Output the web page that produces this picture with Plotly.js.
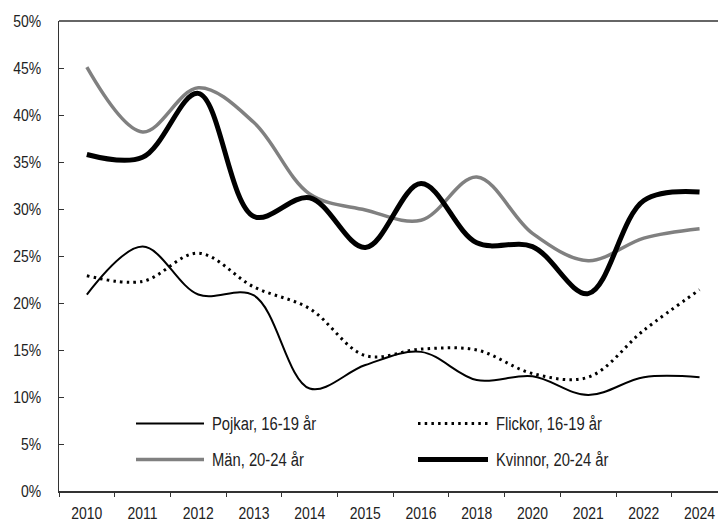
<!DOCTYPE html>
<html>
<head>
<meta charset="utf-8">
<script src="https://cdn.plot.ly/plotly-3.0.1.min.js"></script>
<style>html,body{margin:0;padding:0;background:#fff;}#chart{width:718px;height:522px;}</style>
</head>
<body>
<div id="chart"></div>
<script>
const years = ["2010","2011","2012","2013","2014","2015","2016","2018","2020","2021","2022","2024"];
const yTicks = [0,5,10,15,20,25,30,35,40,45,50];
const pojkar  = [20.9, 26.0, 20.9, 20.8, 10.9, 13.4, 14.8, 11.8, 12.2, 10.2, 12.1, 12.1];
const flickor = [22.9, 22.3, 25.3, 21.7, 19.4, 14.4, 15.1, 15.0, 12.5, 12.1, 17.1, 21.4];
const man     = [45.1, 38.2, 42.9, 39.2, 31.6, 29.9, 28.8, 33.4, 27.4, 24.5, 26.9, 27.9];
const kvinnor = [35.8, 35.5, 42.3, 29.2, 31.2, 25.9, 32.7, 26.4, 26.0, 21.0, 30.9, 31.8];
const names = ["Pojkar, 16-19 år", "Flickor, 16-19 år", "Män, 20-24 år", "Kvinnor, 20-24 år"];

const FONT = "Liberation Sans, Arial, sans-serif";
const styles = [
  {color:"#000000", width:2},
  {color:"#000000", width:3, dash:"2.5px,4.2px"},
  {color:"#808080", width:3.5},
  {color:"#000000", width:5}
];
const series = [pojkar, flickor, man, kvinnor];

const traces = series.map((s,i)=>({
  type:"scatter", mode:"lines", x:years, y:s, name:names[i],
  line:Object.assign({shape:"spline", smoothing:1}, styles[i]),
  showlegend:false, hoverinfo:"skip"
}));

// plot-area geometry (px) for legend placement
const L=59, R=718, T=21, B=491;
const px = v => (v-L)/(R-L);
const py = v => (B-v)/(B-T);
const legendPos = [
  {x0:136, x1:204, y:423.5},
  {x0:418, x1:488, y:423.5},
  {x0:136, x1:204, y:459.5},
  {x0:418, x1:488, y:459.5}
];
const shapes = legendPos.map((p,i)=>({
  type:"line", xref:"paper", yref:"paper",
  x0:px(p.x0), x1:px(p.x1), y0:py(p.y), y1:py(p.y),
  line:{color:styles[i].color, width:styles[i].width, dash:styles[i].dash||"solid"}
}));
shapes.push({type:"line", xref:"paper", yref:"paper", x0:0, x1:1, y0:1, y1:1,
  line:{color:"#666666", width:2}});
const annotations = legendPos.map((p,i)=>({
  xref:"paper", yref:"paper", x:px(p.x1+6), y:py(p.y), xanchor:"left", yanchor:"middle",
  text:names[i], showarrow:false, font:{family:FONT, size:18, color:"#222"}
}));

const xr = [-0.5, -0.5 + (R-L)/55.7];
const bounds = years.map((_,i)=>i-0.5).concat([years.length-0.5]);

const layout = {
  width:718, height:522,
  margin:{l:L, r:0, t:T, b:522-B, pad:0},
  paper_bgcolor:"#fff", plot_bgcolor:"#fff",
  font:{family:FONT, size:17, color:"#222"},
  showlegend:false,
  xaxis:{type:"category", categoryorder:"array", categoryarray:years, range:xr,
    tickson:"boundaries", ticks:"outside", ticklen:4, tickwidth:1, tickcolor:"#333",
    showline:true, linecolor:"#333", linewidth:1.5, showgrid:false, zeroline:false,
    ticklabelstandoff:6, tickfont:{family:FONT, size:17, color:"#222"}},
  xaxis2:{overlaying:"x", anchor:"y", side:"bottom", type:"linear", range:xr,
    tickmode:"array", tickvals:bounds, ticks:"inside", ticklen:4, tickwidth:1, tickcolor:"#333",
    showticklabels:false, showline:false, showgrid:false, zeroline:false},
  yaxis:{range:[0,50], tickmode:"array", tickvals:yTicks, ticktext:yTicks.map(v=>v+"%"),
    ticks:"inside", ticklen:5, tickwidth:1, tickcolor:"#333",
    showline:true, linecolor:"#333", linewidth:1.5, showgrid:false, zeroline:false,
    ticklabelstandoff:13, tickfont:{family:FONT, size:17, color:"#222"}},
  shapes:shapes, annotations:annotations
};

// narrow the glyphs (reference uses a condensed face) keeping the anchor point
function condense(el, f, mode){
  const bb = el.getBBox();
  const len = el.getComputedTextLength();
  let x = mode === "start" ? bb.x : mode === "end" ? bb.x + bb.width : bb.x + bb.width/2;
  el.setAttribute("text-anchor", mode);
  el.setAttribute("x", x);
  el.querySelectorAll("tspan[x]").forEach(t=>t.setAttribute("x", x));
  el.setAttribute("textLength", len*f);
  el.setAttribute("lengthAdjust", "spacingAndGlyphs");
}

Plotly.newPlot("chart", traces, layout, {staticPlot:true, displayModeBar:false}).then(gd=>{
  const F = 0.82;
  gd.querySelectorAll(".xtick text").forEach(el=>condense(el, F, "middle"));
  gd.querySelectorAll(".ytick text").forEach(el=>condense(el, F, "end"));
  gd.querySelectorAll(".annotation-text").forEach(el=>condense(el, F, "start"));
});
</script>
</body>
</html>
